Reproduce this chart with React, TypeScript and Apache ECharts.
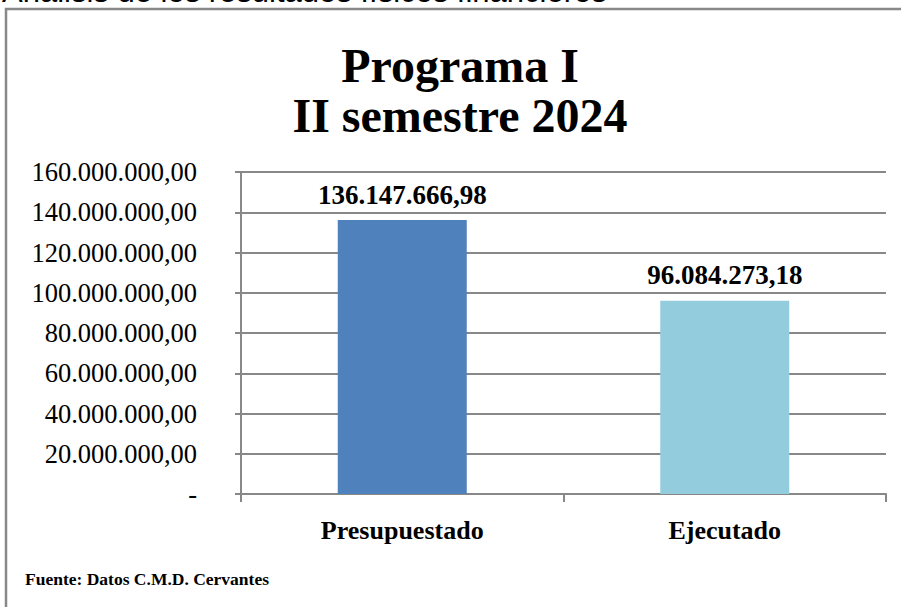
import React, { useEffect, useRef } from "react";
import * as echarts from "echarts";

const categories = ["Presupuestado", "Ejecutado"];
const values = [136147666.98, 96084273.18];
const barColors = ["#4F81BD", "#93CDDD"];
const yTicks = { min: 0, max: 160000000, interval: 20000000 };
const titleLines = ["Programa I", "II semestre 2024"];
const sourceText = "Fuente: Datos C.M.D. Cervantes";
const topText = "Análisis de los resultados físicos financieros";

function fmt(v: number): string {
  if (v === 0) return "-";
  const fixed = v.toFixed(2);
  const [intPart, dec] = fixed.split(".");
  const withDots = intPart.replace(/\B(?=(\d{3})+(?!\d))/g, ".");
  return withDots + "," + dec;
}

const serif = "Liberation Serif";

export default function App() {
  const ref = useRef<HTMLDivElement>(null);
  useEffect(() => {
    if (!ref.current) return;
    const chart = echarts.init(ref.current, undefined, { renderer: "svg" });
    chart.setOption({
      animation: false,
      backgroundColor: "#ffffff",
      graphic: [
        {
          type: "rect",
          shape: { x: 6, y: 9, width: 1000, height: 800 },
          style: { fill: "none", stroke: "#888888", lineWidth: 2.5 },
          silent: true,
        },
        {
          type: "text",
          x: 2,
          y: -9,
          style: {
            text: topText,
            fontFamily: "Liberation Sans",
            fontSize: 31,
            fill: "#000",
            verticalAlign: "middle",
          },
        },
        {
          type: "text",
          x: 460,
          y: 65,
          style: {
            text: titleLines[0],
            fontFamily: serif,
            fontWeight: "bold",
            fontSize: 48,
            fill: "#000",
            align: "center",
            verticalAlign: "middle",
          },
        },
        {
          type: "text",
          x: 460,
          y: 115,
          style: {
            text: titleLines[1],
            fontFamily: serif,
            fontWeight: "bold",
            fontSize: 48,
            fill: "#000",
            align: "center",
            verticalAlign: "middle",
          },
        },
        {
          type: "text",
          x: 25,
          y: 579,
          style: {
            text: sourceText,
            fontFamily: serif,
            fontWeight: "bold",
            fontSize: 17.5,
            fill: "#000",
            verticalAlign: "middle",
          },
        },
      ],
      grid: { left: 241, right: 15, top: 172, bottom: 113 },
      xAxis: {
        type: "category",
        data: categories,
        axisLine: { show: true, lineStyle: { color: "#888888", width: 2 } },
        axisTick: { show: true, length: 8, lineStyle: { color: "#888888", width: 2 } },
        axisLabel: {
          margin: 23,
          fontFamily: serif,
          fontWeight: "bold",
          fontSize: 26,
          color: "#000",
        },
        splitLine: { show: false },
      },
      yAxis: {
        type: "value",
        min: yTicks.min,
        max: yTicks.max,
        interval: yTicks.interval,
        axisLine: { show: true, lineStyle: { color: "#888888", width: 2 } },
        axisTick: { show: true, length: 6, lineStyle: { color: "#888888", width: 2 } },
        axisLabel: {
          margin: 44,
          fontFamily: serif,
          fontSize: 26.5,
          color: "#000",
          formatter: (v: number) => fmt(v),
        },
        splitLine: { show: true, lineStyle: { color: "#888888", width: 2 } },
      },
      series: [
        {
          type: "bar",
          barWidth: "40%",
          data: values.map((v, i) => ({ value: v, itemStyle: { color: barColors[i] } })),
          label: {
            show: true,
            position: "top",
            distance: 12,
            fontFamily: serif,
            fontWeight: "bold",
            fontSize: 27,
            color: "#000",
            formatter: (p: any) => fmt(p.value),
          },
        },
      ],
    });
    return () => chart.dispose();
  }, []);
  return (
    <div
      ref={ref}
      style={{ position: "absolute", left: 0, top: 0, width: 901, height: 607 }}
    />
  );
}
